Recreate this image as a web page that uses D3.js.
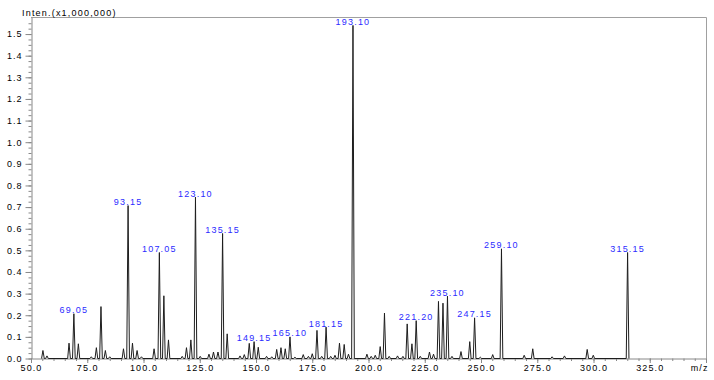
<!DOCTYPE html>
<html>
<head>
<meta charset="utf-8">
<script src="https://cdn.jsdelivr.net/npm/d3@7"></script>
<style>
body { margin: 0; background: #fff; }
text { font-family: "Liberation Sans", Arial, sans-serif; }
</style>
</head>
<body>
<div id="graph"></div>
<script>
// peaks: m/z and intensity (x1,000,000)
const peakMz = [55.3, 57.1, 66.9, 69.05, 71.05, 76.8, 79.05, 81.1, 83.05, 85.0,
    91.1, 93.15, 95.1, 97.15, 99.1, 104.7, 107.05, 109.05, 111.1, 117.2,
    119.1, 121.05, 123.10, 125.2, 129.1, 131.1, 133.1, 135.15, 137.2, 142.9,
    144.8, 147.0, 149.15, 151.0, 154.7, 157.0, 159.2, 161.1, 163.0, 165.10,
    167.3, 171.0, 173.3, 175.0, 177.1, 179.2, 181.15, 183.2, 185.1, 187.1,
    189.2, 191.1, 193.10, 199.3, 201.2, 203.0, 205.2, 207.1, 209.2, 212.9,
    215.3, 217.2, 219.3, 221.20, 223.0, 227.1, 228.9, 231.1, 233.1, 235.10,
    237.1, 241.1, 245.0, 247.15, 249.7, 255.2, 259.10, 269.2, 273.0, 281.6,
    287.1, 297.2, 299.9, 315.15];
const peakInt = [0.037, 0.012, 0.071, 0.207, 0.068, 0.008, 0.05, 0.24, 0.037, 0.008,
    0.045, 0.707, 0.071, 0.037, 0.008, 0.045, 0.49, 0.29, 0.086, 0.01,
    0.05, 0.086, 0.746, 0.01, 0.02, 0.03, 0.03, 0.578, 0.114, 0.012,
    0.018, 0.07, 0.078, 0.052, 0.01, 0.008, 0.042, 0.05, 0.045, 0.10,
    0.006, 0.018, 0.01, 0.022, 0.13, 0.01, 0.145, 0.01, 0.015, 0.071,
    0.065, 0.02, 1.54, 0.02, 0.01, 0.015, 0.055, 0.21, 0.01, 0.012,
    0.01, 0.16, 0.068, 0.175, 0.01, 0.03, 0.02, 0.264, 0.256, 0.288,
    0.01, 0.032, 0.078, 0.188, 0.006, 0.018, 0.507, 0.015, 0.045, 0.008,
    0.012, 0.042, 0.015, 0.49];

// annotated peaks
const labelTexts = ["69.05", "93.15", "107.05", "123.10", "135.15", "149.15", "165.10",
    "181.15", "193.10", "221.20", "235.10", "247.15", "259.10", "315.15"];

const yTicks = [0.0, 0.1, 0.2, 0.3, 0.4, 0.5, 0.6, 0.7, 0.8, 0.9, 1.0, 1.1, 1.2, 1.3, 1.4, 1.5];
const xTicks = [50, 75, 100, 125, 150, 175, 200, 225, 250, 275, 300, 325, 350];

let width = 714, height = 380;
let plotL = 31, plotR = 706, plotT = 17, plotB = 358.5;

let svg = d3.select("#graph")
    .append("svg")
    .attr("width", width)
    .attr("height", height);

let x = d3.scaleLinear().domain([50, 350]).range([plotL, plotR]);
let y = d3.scaleLinear().domain([0, (plotB - plotT) / 216.3]).range([plotB, plotT]);

// frame (top + right)
svg.append("path")
    .attr("d", `M${plotL},${plotT + 0.5}H${plotR + 0.5}V${plotB}`)
    .attr("fill", "none")
    .attr("stroke", "#a0a0a0");

// Y axis, minor then major ticks
let yMinor = d3.range(0, 63).map(i => i * 0.025);
svg.append("g")
    .attr("transform", `translate(${plotL + 0.5},0)`)
    .call(d3.axisLeft(y).tickValues(yMinor).tickSize(3).tickSizeOuter(0).tickFormat(""))
    .call(g => g.selectAll("line,path").attr("stroke", "#888"));
svg.append("g")
    .attr("transform", `translate(${plotL + 0.5},0)`)
    .call(d3.axisLeft(y).tickValues(yTicks).tickSize(6).tickPadding(3).tickSizeOuter(0).tickFormat(d3.format(".1f")))
    .call(g => g.select(".domain").remove())
    .call(g => g.selectAll("line").attr("stroke", "#888"))
    .call(g => g.selectAll("text").attr("font-size", 9).attr("letter-spacing", 1)
        .attr("fill", "#000").attr("font-family", "Liberation Sans, Arial, sans-serif"));

// X axis
let xMinor = d3.range(50, 351, 5);
svg.append("g")
    .attr("transform", `translate(0,${plotB})`)
    .call(d3.axisBottom(x).tickValues(xMinor).tickSize(2.5).tickSizeOuter(0).tickFormat(""))
    .call(g => g.selectAll("line,path").attr("stroke", "#888"));
svg.append("g")
    .attr("transform", `translate(0,${plotB})`)
    .call(d3.axisBottom(x).tickValues(xTicks).tickSize(4.5).tickPadding(2).tickSizeOuter(0)
        .tickFormat(d => d === 350 ? "m/z" : d3.format(".1f")(d)))
    .call(g => g.select(".domain").remove())
    .call(g => g.selectAll("line").attr("stroke", "#888"))
    .call(g => g.selectAll("text").attr("font-size", 9).attr("letter-spacing", 1.1)
        .attr("fill", "#000").attr("font-family", "Liberation Sans, Arial, sans-serif"))
    .call(g => g.selectAll(".tick").filter(d => d === 350).select("text")
        .attr("text-anchor", "end").attr("x", 2));

svg.append("text")
    .attr("x", 22)
    .attr("y", 16)
    .attr("font-size", 9)
    .attr("letter-spacing", 1.2)
    .text("Inten.(x1,000,000)");

// spectrum profile
let pts = [];
peakMz.forEach((m, i) => {
    pts.push([m - 0.6, 0], [m, peakInt[i]], [m + 0.6, 0]);
});
svg.append("path")
    .datum(pts)
    .attr("fill", "none")
    .attr("stroke", "#1e1e1e")
    .attr("stroke-width", 1)
    .attr("d", d3.line().x(d => x(d[0])).y(d => y(d[1])));

// peak labels
let labelled = labelTexts.map(t => {
    let i = peakMz.indexOf(+t);
    return { t: t, m: peakMz[i], v: peakInt[i] };
});
svg.append("g")
    .selectAll("text")
    .data(labelled)
    .join("text")
    .attr("x", d => x(d.m))
    .attr("y", d => y(d.v) - 0.5)
    .attr("text-anchor", "middle")
    .attr("font-size", 9)
    .attr("letter-spacing", 1.2)
    .attr("fill", "#2b2bff")
    .text(d => d.t);
</script>
</body>
</html>
